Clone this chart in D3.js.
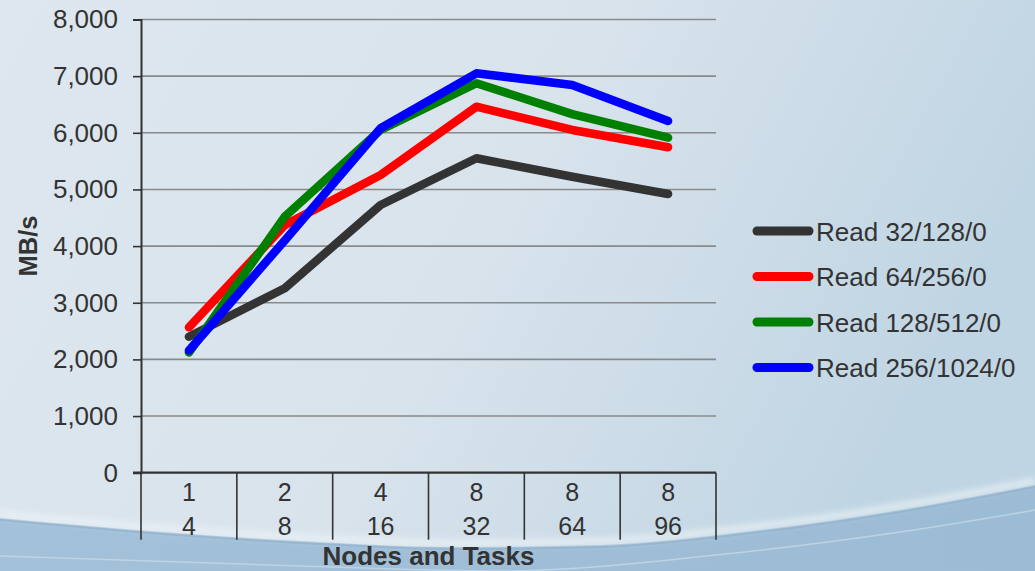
<!DOCTYPE html>
<html>
<head>
<meta charset="utf-8">
<script src="https://cdn.jsdelivr.net/npm/d3@7"></script>
<style>
  html, body { margin: 0; padding: 0; overflow: hidden; }
  svg { display: block; }
  text { font-family: "Liberation Sans", Arial, sans-serif; fill: #333; }
</style>
</head>
<body>
<script>
// Read throughput by node/task configuration
const nodes = ["1", "2", "4", "8", "8", "8"];
const tasks = ["4", "8", "16", "32", "64", "96"];
const seriesNames = ["Read 32/128/0", "Read 64/256/0", "Read 128/512/0", "Read 256/1024/0"];
const seriesColors = ["#333333", "#ff0000", "#008000", "#0000ff"];
const read32 = [2400, 3255, 4725, 5550, 5225, 4920];
const read64 = [2566, 4370, 5255, 6460, 6050, 5745];
const read128 = [2120, 4520, 6050, 6875, 6330, 5915];
const read256 = [2155, 4100, 6080, 7050, 6845, 6210];
const yTicks = [0, 1000, 2000, 3000, 4000, 5000, 6000, 7000, 8000];

const W = 1035, H = 571;
const svg = d3.select("body").append("svg").attr("width", W).attr("height", H);

// Backdrop: soft blue gradient with a wave along the bottom
const defs = svg.append("defs");
const bg = defs.append("linearGradient").attr("id", "bg").attr("x1", 0).attr("x2", 1).attr("y1", 0).attr("y2", 0.3);
bg.append("stop").attr("offset", "0%").attr("stop-color", "#dee7ef");
bg.append("stop").attr("offset", "55%").attr("stop-color", "#d8e3ec");
bg.append("stop").attr("offset", "100%").attr("stop-color", "#c0d5e3");
const wave = defs.append("linearGradient").attr("id", "wave").attr("x1", 0).attr("x2", 1).attr("y1", 0).attr("y2", 0);
wave.append("stop").attr("offset", "0%").attr("stop-color", "#a3c1d9");
wave.append("stop").attr("offset", "100%").attr("stop-color", "#9cbbd4");
const glow = defs.append("filter").attr("id", "glow").attr("x", "-5%").attr("y", "-50%").attr("width", "110%").attr("height", "200%");
glow.append("feGaussianBlur").attr("stdDeviation", 3);

svg.append("rect").attr("width", W).attr("height", H).attr("fill", "url(#bg)");

const waveTop = [[0, 518], [150, 531], [300, 541], [450, 547], [600, 545], [735, 533], [900, 510], [1035, 485]];
const curve = d3.line().curve(d3.curveMonotoneX);
svg.append("path")
  .attr("d", curve(waveTop) + `L${W},${H}L0,${H}Z`)
  .attr("fill", "url(#wave)");
svg.append("path")
  .attr("d", curve(waveTop.map(p => [p[0], p[1] - 4])))
  .attr("fill", "none").attr("stroke", "#eef4f8").attr("stroke-width", 5)
  .attr("filter", "url(#glow)").attr("opacity", 0.9);
svg.append("path")
  .attr("d", curve(waveTop.map(p => [p[0], p[1] + 2])))
  .attr("fill", "none").attr("stroke", "#8fb0cb").attr("stroke-width", 2).attr("opacity", 0.7);
svg.append("path")
  .attr("d", curve([[0, 556], [300, 566], [500, 571], [735, 553], [900, 532], [1035, 510]]))
  .attr("fill", "none").attr("stroke", "#c3d8e8").attr("stroke-width", 1.5).attr("opacity", 0.8);

// Plot area
const x0 = 141, x1 = 716, yTop = 19.5, yBot = 472.7;
const x = d3.scaleBand().domain(d3.range(nodes.length)).range([x0, x1]);
const y = d3.scaleLinear().domain([0, 8000]).range([yBot, yTop]);
const cx = i => x(i) + x.bandwidth() / 2;

// Horizontal gridlines
svg.append("g").selectAll("line").data(yTicks.filter(d => d > 0)).join("line")
  .attr("x1", x0).attr("x2", x1)
  .attr("y1", d => y(d)).attr("y2", d => y(d))
  .attr("stroke", "#8a8a8a").attr("stroke-width", 1.6);

// Y axis
const yAxis = svg.append("g").attr("transform", `translate(${x0},0)`)
  .call(d3.axisLeft(y).tickValues(yTicks).tickFormat(d3.format(",")).tickSize(8).tickPadding(15));
yAxis.select(".domain").attr("stroke", "#333").attr("stroke-width", 2);
yAxis.selectAll(".tick line").attr("stroke", "#333").attr("stroke-width", 1.6);
yAxis.selectAll(".tick text").attr("font-size", 26).attr("fill", "#333")
  .attr("font-family", "'Liberation Sans', Arial, sans-serif");

// X axis: baseline, band separators and two-row labels
const xg = svg.append("g");
xg.append("line").attr("x1", x0 - 8).attr("x2", x1).attr("y1", yBot).attr("y2", yBot)
  .attr("stroke", "#333").attr("stroke-width", 2.2);
const bounds = d3.range(nodes.length + 1).map(i => i < nodes.length ? x(i) : x1);
xg.selectAll("line.sep").data(bounds).join("line").attr("class", "sep")
  .attr("x1", d => d).attr("x2", d => d)
  .attr("y1", yBot).attr("y2", yBot + 67)
  .attr("stroke", "#333").attr("stroke-width", 1.6);
xg.selectAll("text.nodes").data(nodes).join("text").attr("class", "nodes")
  .attr("x", (d, i) => cx(i)).attr("y", 501)
  .attr("text-anchor", "middle").attr("font-size", 25).text(d => d);
xg.selectAll("text.tasks").data(tasks).join("text").attr("class", "tasks")
  .attr("x", (d, i) => cx(i)).attr("y", 535)
  .attr("text-anchor", "middle").attr("font-size", 25).text(d => d);

// Axis titles
svg.append("text").attr("x", (x0 + x1) / 2).attr("y", 565)
  .attr("text-anchor", "middle").attr("font-size", 26).attr("font-weight", "bold")
  .text("Nodes and Tasks");
svg.append("text").attr("transform", "translate(37,246) rotate(-90)")
  .attr("text-anchor", "middle").attr("font-size", 25.5).attr("font-weight", "bold")
  .text("MB/s");

// Series lines
const allSeries = [read32, read64, read128, read256];
const line = d3.line().x((d, i) => cx(i)).y(d => y(d));
svg.append("g").selectAll("path").data(allSeries).join("path")
  .attr("d", line)
  .attr("fill", "none")
  .attr("stroke", (d, i) => seriesColors[i])
  .attr("stroke-width", 8.5)
  .attr("stroke-linecap", "round")
  .attr("stroke-linejoin", "round");

// Legend
const lg = svg.append("g").selectAll("g").data(seriesNames).join("g")
  .attr("transform", (d, i) => `translate(753,${231 + i * 45.5})`);
lg.append("line").attr("x1", 4).attr("x2", 56).attr("y1", 0).attr("y2", 0)
  .attr("stroke", (d, i) => seriesColors[i]).attr("stroke-width", 9).attr("stroke-linecap", "round");
lg.append("text").attr("x", 63).attr("y", 9.5).attr("font-size", 26).text(d => d);
</script>
</body>
</html>
